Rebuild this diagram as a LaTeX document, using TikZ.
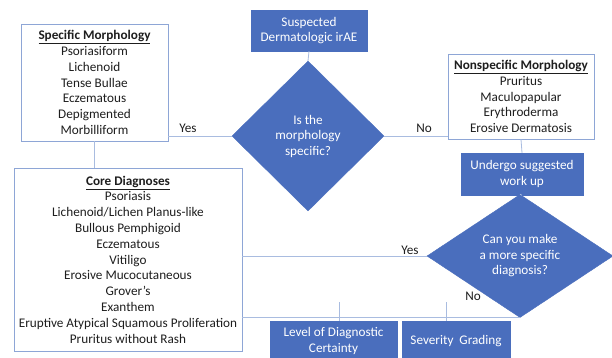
\documentclass[tikz,border=0pt]{standalone}
\usepackage{fontspec}
\setmainfont{Carlito}
\usetikzlibrary{shapes.geometric}
\definecolor{bfill}{HTML}{4A6EBD}
\definecolor{bline}{HTML}{8EA6D6}
\definecolor{cline}{HTML}{A9BCE0}
\definecolor{tcol}{HTML}{1E1E1E}
\tikzset{
  bluebox/.style={draw=bfill, fill=bfill, text=white, inner sep=0pt, align=center, font=\fontsize{13.2}{15.5}\selectfont},
  whitebox/.style={draw=bline, line width=0.8pt, fill=white, text=tcol, inner sep=0pt, align=center, font=\fontsize{13.2}{15.8}\selectfont},
  dia/.style={diamond, draw=bfill, fill=bfill, text=white, inner sep=0pt, align=center, font=\fontsize{13.2}{15.5}\selectfont},
  conn/.style={draw=cline, line width=0.8pt},
  lab/.style={text=tcol, inner sep=0pt, font=\fontsize{13.2}{15}\selectfont}
}
\begin{document}
\begin{tikzpicture}[x=1pt,y=-1pt]
\clip (0,0) rectangle (612,357);
\fill[white] (0,0) rectangle (612,357);

\node[bluebox, minimum width=116pt, minimum height=41pt] (sus) at (309,30.5) {Suspected\\Dermatologic irAE};
\node[dia, minimum width=152pt, minimum height=150pt] (d1) at (308,136) {Is the\\morphology\\specific?};
\node[whitebox, minimum width=147pt, minimum height=117pt] (spec) at (94.5,82.5) {\underline{\textbf{Specific Morphology}}\\Psoriasiform\\Lichenoid\\Tense Bullae\\Eczematous\\Depigmented\\Morbilliform};
\node[whitebox, minimum width=146pt, minimum height=85pt] (nons) at (521,96.5) {\underline{\textbf{Nonspecific Morphology}}\\Pruritus\\Maculopapular\\Erythroderma\\Erosive Dermatosis};
\node[bluebox, minimum width=122pt, minimum height=42pt] (und) at (522,174) {Undergo suggested\\work up};
\node[dia, minimum width=186pt, minimum height=92pt] (d2) at (520,256) {Can you make\\a more specific\\diagnosis?};
\node[whitebox, minimum width=228pt, minimum height=183pt] (core) at (128,259.5) {\underline{\textbf{Core Diagnoses}}\\Psoriasis\\Lichenoid/Lichen Planus-like\\Bullous Pemphigoid\\Eczematous\\Vitiligo\\Erosive Mucocutaneous\\Grover’s\\Exanthem\\Eruptive Atypical Squamous Proliferation\\Pruritus without Rash};
\node[bluebox, minimum width=127pt, minimum height=40pt] (lev) at (333.5,341) {Level of Diagnostic\\Certainty};
\node[bluebox, minimum width=108pt, minimum height=40pt] (sev) at (456,341) {Severity\ \ Grading};

\draw[conn] (sus.south) -- (d1.north);
\draw[conn] (d1.west) -- (d1.west -| spec.east);
\draw[conn] (spec.south) -- (spec.south |- core.north);
\draw[conn] (d1.east) -- (d1.east -| nons.west);
\draw[conn] (nons.south) -- (und.north);
\draw[conn] (und.south) -- (d2.north);
\draw[conn] (d2.west) -- (d2.west -| core.east);
\draw[conn] (d2.south) -- (d2.south -| core.east);
\coordinate (n1) at (339,302);
\coordinate (n2) at (446,302);
\draw[conn] (n1) -- (n1 |- lev.north);
\draw[conn] (n2) -- (n2 |- sev.north);

\node[lab] (y1) at (188,128) {Yes};
\node[lab] (no1) at (424,128) {No};
\node[lab] (y2) at (410,250) {Yes};
\node[lab] (no2) at (473,296) {No};
\end{tikzpicture}
\end{document}
